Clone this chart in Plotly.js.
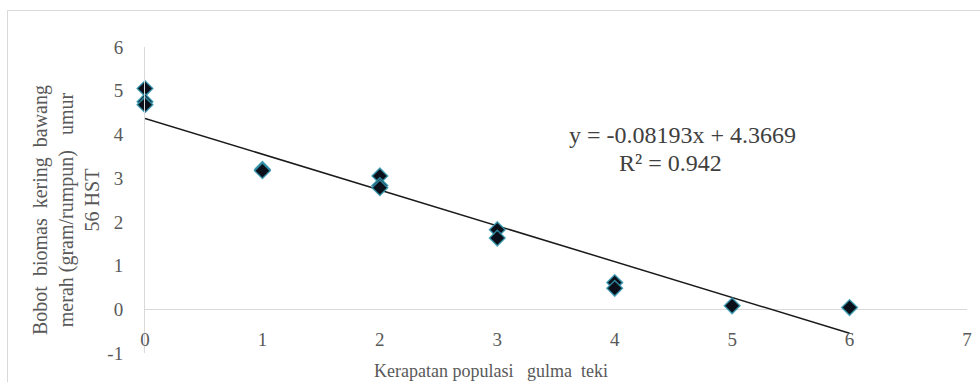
<!DOCTYPE html>
<html>
<head>
<meta charset="utf-8">
<script src="https://cdn.plot.ly/plotly-3.0.1.min.js"></script>
<style>
html,body{margin:0;padding:0;background:#fff;}
#chart{width:980px;height:382px;}
</style>
</head>
<body>
<div id="chart"></div>
<script>
const density = [0, 0, 0, 1, 1, 2, 2, 2, 3, 3, 4, 4, 5, 6];
const biomass = [5.05, 4.75, 4.68, 3.20, 3.17, 3.05, 2.83, 2.78, 1.82, 1.63, 0.61, 0.48, 0.08, 0.04];

// Linear trendline as drawn in the reference
const trendSlope = -0.8193;
const trendIntercept = 4.3669;
const trendRange = [0, 6];

// Texts
const eqText = 'y = -0.08193x + 4.3669';
const r2Text = 'R\u00b2\u00a0=\u00a00.942';
const xTitle = 'Kerapatan\u00a0populasi\u00a0\u00a0 gulma\u00a0\u00a0teki';
const S = '\u00a0\u00a0';
const PAD = '\u00a0\u00a0\u00a0\u00a0';
const yTitle = 'Bobot' + S + 'biomas' + S + 'kering' + S + 'bawang' + PAD +
               '<br>merah\u00a0(gram/rumpun)\u00a0\u00a0\u00a0umur' + PAD +
               '<br>56\u00a0HST' + PAD + PAD;
const xTicks = [0, 1, 2, 3, 4, 5, 6, 7];
const yTicks = [-1, 0, 1, 2, 3, 4, 5, 6];

const trendX = trendRange.slice();
const trendY = trendX.map(x => trendIntercept + trendSlope * x);

const serif = '"Liberation Serif", "Times New Roman", serif';

const traces = [
  {
    x: trendX, y: trendY, type: 'scatter', mode: 'lines',
    line: {color: '#1a1a1a', width: 1.5}, hoverinfo: 'skip', showlegend: false,
    cliponaxis: false
  },
  {
    x: density, y: biomass, type: 'scatter', mode: 'markers',
    marker: {symbol: 'diamond', size: 12, color: '#0b0f1a',
             line: {color: 'rgba(50,150,175,0.85)', width: 1.5}},
    showlegend: false, cliponaxis: false
  }
];

const layout = {
  width: 980, height: 382,
  margin: {l: 145, r: 13, t: 47, b: 29},
  paper_bgcolor: '#ffffff', plot_bgcolor: '#ffffff',
  font: {family: serif, color: '#595959', size: 19},
  showlegend: false,
  xaxis: {
    range: [0, 7], tickvals: xTicks, ticktext: xTicks.map(String),
    showgrid: false, zeroline: false, showline: false, ticks: '',
    ticklabelstandoff: -27,
    tickfont: {family: serif, size: 19, color: '#595959'},
    fixedrange: true
  },
  yaxis: {
    range: [-1, 6], tickvals: yTicks, ticktext: yTicks.map(String),
    showgrid: false, zeroline: true, zerolinecolor: '#d9d9d9', zerolinewidth: 1,
    showline: true, linecolor: '#d9d9d9', linewidth: 1, ticks: '',
    ticklabelstandoff: 17,
    tickfont: {family: serif, size: 19, color: '#595959'},
    title: {text: yTitle, font: {family: serif, size: 20, color: '#595959'}, standoff: 2},
    automargin: false,
    fixedrange: true
  },
  annotations: [
    {xref: 'paper', yref: 'paper', x: (491 - 145) / 822, y: (353 - 371) / 306,
     text: xTitle, showarrow: false, xanchor: 'center', yanchor: 'middle',
     font: {family: serif, size: 18, color: '#595959'}},
    {xref: 'paper', yref: 'paper', x: (682 - 145) / 822, y: (353 - 135) / 306,
     text: eqText, showarrow: false, xanchor: 'center', yanchor: 'middle',
     font: {family: serif, size: 24, color: '#404040'}},
    {xref: 'paper', yref: 'paper', x: (670 - 145) / 822, y: (353 - 163) / 306,
     text: r2Text, showarrow: false, xanchor: 'center', yanchor: 'middle',
     font: {family: serif, size: 24, color: '#404040'}}
  ],
  shapes: [
    {type: 'rect', xref: 'paper', yref: 'paper',
     x0: (7.5 - 145) / 822, x1: (990 - 145) / 822,
     y0: (353 - 395) / 306, y1: (353 - 10.5) / 306,
     line: {color: '#d9d9d9', width: 1}, fillcolor: 'rgba(0,0,0,0)', layer: 'below'}
  ]
};

Plotly.newPlot('chart', traces, layout, {displayModeBar: false, staticPlot: true});
</script>
</body>
</html>
